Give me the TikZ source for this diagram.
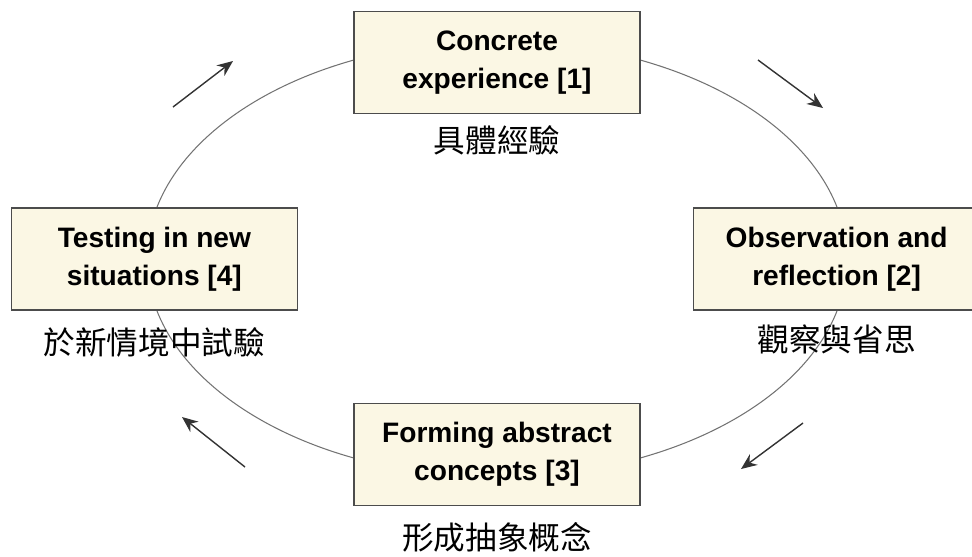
\documentclass[tikz,border=0pt]{standalone}
\usepackage{fontspec}
\setmainfont{Liberation Sans}
\newfontfamily\cjk{Noto Sans CJK TC}
\usepackage{tikz}
\usetikzlibrary{arrows.meta,positioning}
\definecolor{paper}{HTML}{FBF7E4}

\begin{document}
\begin{tikzpicture}[x=0.02cm,y=-0.02cm,>={Stealth[length=9pt,width=7.5pt]},semithick]
	\tikzstyle{stage}=[draw=black!70,line width=0.8pt,fill=paper,text=black,minimum width=5.72cm,minimum height=2.04cm,align=center,font=\bfseries\fontsize{16}{21.6}\selectfont]
	\tikzstyle{note}=[inner sep=0pt,font=\cjk\fontsize{18}{18}\selectfont]
	\tikzstyle{cycle}=[draw=black!55,line width=0.6pt]
	\tikzstyle{flow}=[->,draw=black!80,line width=0.8pt]

	\useasboundingbox (0,0) rectangle (972,556);
	\coordinate (hub) at (497,259);
	\draw[cycle] (hub) ellipse [x radius=350, y radius=218];

	\node[stage]	(concrete) [above=2.9cm of hub]	{Concrete\\experience [1]};
	\node[stage]	(reflect)  [right=3.92cm of hub]	{Observation and\\reflection [2]};
	\node[stage]	(abstract) [below=2.88cm of hub]	{Forming abstract\\concepts [3]};
	\node[stage]	(testing)  [left=3.98cm of hub]	{Testing in new\\situations [4]};

	\node[note]	(concrete-zh) [below=0.22cm of concrete]	{具體經驗};
	\node[note]	(reflect-zh)  [below=0.28cm of reflect]	{觀察與省思};
	\node[note]	(abstract-zh) [below=0.32cm of abstract]	{形成抽象概念};
	\node[note]	(testing-zh)  [below=0.32cm of testing]	{於新情境中試驗};

	\coordinate (nw-tail) at (173,107);
	\coordinate (nw-head) at (233,61);
	\coordinate (ne-tail) at (758,60);
	\coordinate (ne-head) at (823,108);
	\coordinate (se-tail) at (803,423);
	\coordinate (se-head) at (741,469);
	\coordinate (sw-tail) at (245,467);
	\coordinate (sw-head) at (182,417);

	\draw[flow] (nw-tail) -- (nw-head);
	\draw[flow] (ne-tail) -- (ne-head);
	\draw[flow] (se-tail) -- (se-head);
	\draw[flow] (sw-tail) -- (sw-head);
\end{tikzpicture}
\end{document}
